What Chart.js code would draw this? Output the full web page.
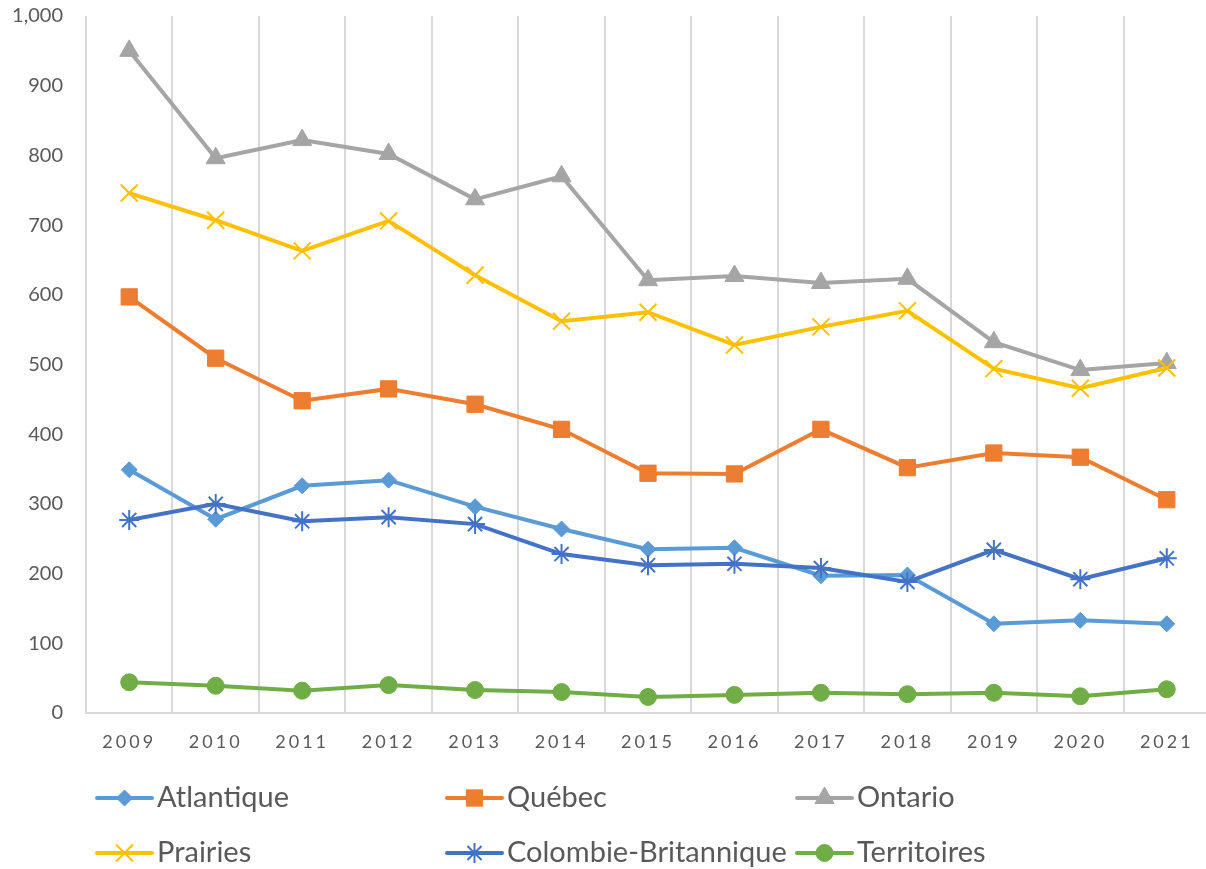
<!DOCTYPE html>
<html>
<head>
<meta charset="utf-8">
<script src="https://cdn.jsdelivr.net/npm/chart.js@4.4.0/dist/chart.umd.min.js"></script>
<style>
html, body { margin: 0; padding: 0; background: #fff; overflow: hidden; }
#wrap { width: 1212px; height: 869px; }
</style>
</head>
<body>
<div id="wrap"><canvas id="chart" width="1212" height="869"></canvas></div>
<script>
// values
const years = ['2009', '2010', '2011', '2012', '2013', '2014', '2015', '2016', '2017', '2018', '2019', '2020', '2021'];
const atlantique = [349, 278, 326, 334, 296, 264, 235, 237, 197, 198, 128, 133, 128];
const quebec = [597, 509, 448, 465, 443, 407, 344, 343, 407, 352, 373, 367, 306];
const ontario = [950, 796, 822, 802, 737, 770, 621, 627, 617, 623, 532, 492, 502];
const prairies = [746, 707, 663, 706, 628, 562, 575, 528, 554, 577, 494, 466, 495];
const colombie = [277, 300, 275, 281, 271, 228, 212, 214, 208, 188, 234, 192, 222];
const territoires = [44, 39, 32, 40, 33, 30, 23, 26, 29, 27, 29, 24, 34];
const y_min = 0;
const y_max = 1000;
const y_step = 100;

const series = [
    { label: 'Atlantique', data: atlantique, color: '#5b9bd5', style: 'rectRot', radius: 8, border: 1 },
    { label: 'Québec', data: quebec, color: '#ed7d31', style: 'rect', radius: 11.5, border: 1 },
    { label: 'Ontario', data: ontario, color: '#a5a5a5', style: 'triangle', radius: 11, border: 1 },
    { label: 'Prairies', data: prairies, color: '#ffc000', style: 'crossRot', radius: 12, border: 2 },
    { label: 'Colombie-Britannique', data: colombie, color: '#4472c4', style: 'star', radius: 10, border: 2 },
    { label: 'Territoires', data: territoires, color: '#70ad47', style: 'circle', radius: 8.5, border: 1 },
];

const text_color = '#595959';
const grid_color = '#d9d9d9';

// x labels in the reference are letter-spaced
const spacing_plugin = {
    id: 'x_letter_spacing',
    beforeDraw(chart) {
        const sc = chart.scales.x;
        if (sc._spaced) return;
        const orig = sc.drawLabels;
        sc.drawLabels = function (area) {
            chart.ctx.save();
            chart.ctx.letterSpacing = '3px';
            orig.call(this, area);
            chart.ctx.restore();
        };
        sc._spaced = true;
    }
};

// legend in three fixed columns under the plot, like the excel one
const legend_plugin = {
    id: 'bottom_legend',
    afterDraw(chart) {
        const ctx = chart.ctx;
        chart.data.datasets.forEach((ds, i) => {
            const x = 97 + (i % 3) * 350;
            const y = 798 + Math.floor(i / 3) * 55;
            ctx.save();
            ctx.strokeStyle = ds.borderColor;
            ctx.fillStyle = ds.borderColor;
            ctx.lineWidth = 4;
            ctx.lineCap = 'round';
            ctx.beginPath();
            ctx.moveTo(x, y);
            ctx.lineTo(x + 55, y);
            ctx.stroke();
            ctx.lineWidth = ds.pointBorderWidth;
            ctx.lineCap = 'butt';
            Chart.helpers.drawPoint(ctx, {
                pointStyle: ds.pointStyle,
                radius: ds.pointRadius,
                rotation: 0,
                borderWidth: ds.pointBorderWidth
            }, x + 27.5, y);
            ctx.font = '29px Lato';
            ctx.fillStyle = text_color;
            ctx.textBaseline = 'middle';
            ctx.textAlign = 'left';
            ctx.fillText(ds.label, x + 60, y);
            ctx.restore();
        });
    }
};

new Chart(document.getElementById('chart'), {
    type: 'line',
    data: {
        labels: years,
        datasets: series.map((s, i) => ({
            label: s.label,
            data: s.data,
            borderColor: s.color,
            backgroundColor: s.color,
            borderWidth: 4,
            pointStyle: s.style,
            pointRadius: s.radius,
            pointBorderWidth: s.border,
            pointBackgroundColor: s.color,
            pointBorderColor: s.color,
            tension: 0,
            order: series.length - 1 - i,
        }))
    },
    options: {
        responsive: false,
        animation: false,
        layout: {
            autoPadding: false,
            padding: { left: 10, right: 2, top: 16, bottom: 116 }
        },
        plugins: {
            legend: { display: false },
            tooltip: { enabled: false },
        },
        scales: {
            x: {
                offset: true,
                grid: {
                    offset: true,
                    color: grid_color,
                    lineWidth: 2,
                    drawTicks: false,
                },
                border: { color: grid_color, width: 2 },
                ticks: {
                    color: text_color,
                    font: { family: 'Lato', size: 18 },
                    padding: 18,
                    maxRotation: 0,
                    autoSkip: false,
                },
                afterFit(scale) { scale.height = 40; },
            },
            y: {
                min: y_min,
                max: y_max,
                // invisible tick marks give the gap between labels and plot
                grid: {
                    display: true,
                    drawOnChartArea: false,
                    drawTicks: true,
                    tickLength: 23,
                    color: 'rgba(0,0,0,0)',
                },
                border: { display: false },
                ticks: {
                    stepSize: y_step,
                    color: text_color,
                    font: { family: 'Lato', size: 20 },
                    padding: 0,
                    callback: v => v.toLocaleString('en-US'),
                },
                afterFit(scale) { scale.width = 76; },
            }
        }
    },
    plugins: [spacing_plugin, legend_plugin]
});
</script>
</body>
</html>
